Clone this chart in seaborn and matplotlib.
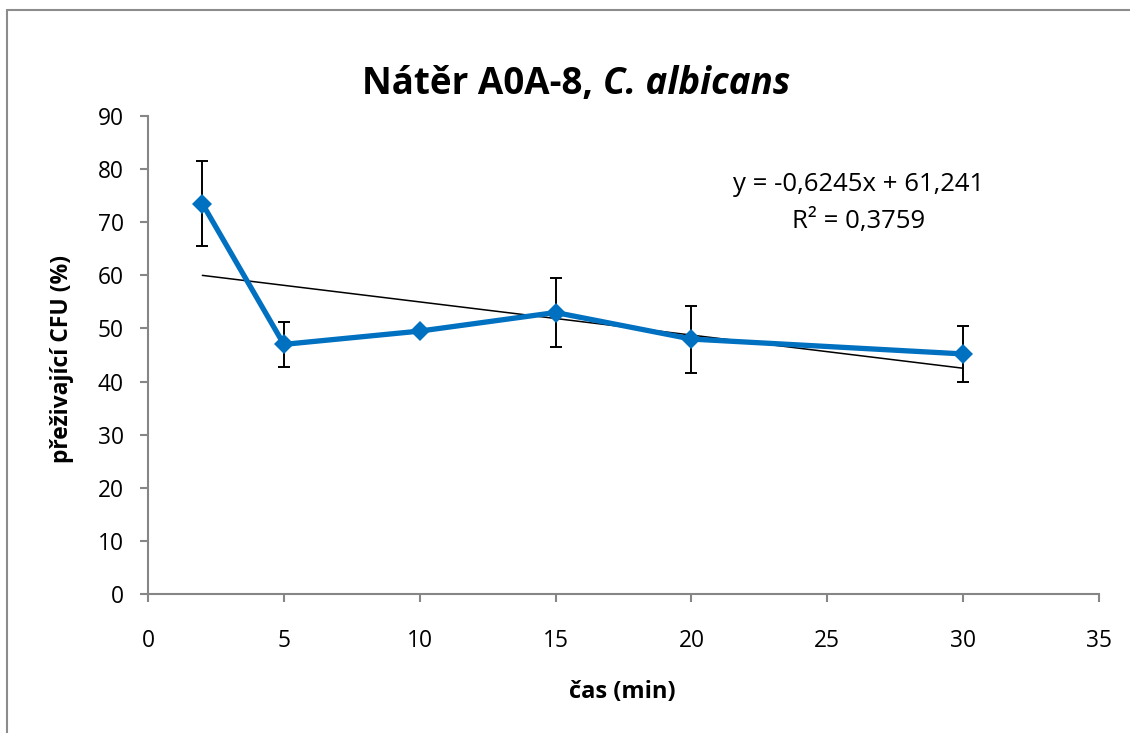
import matplotlib
matplotlib.use("Agg")
import matplotlib.pyplot as plt
from matplotlib.lines import Line2D
import numpy as np
import pandas as pd
import seaborn as sns

# Survival of C. albicans on coating A0A-8 over time
time_min = [2, 5, 10, 15, 20, 30]
survival_pct = [73.5, 47.0, 49.5, 53.0, 48.0, 45.2]
error_pct = [8.0, 4.3, 0.0, 6.5, 6.3, 5.3]

# Linear trend reported on the chart
slope = -0.6245
intercept = 61.241
equation_lines = ["y = -0,6245x + 61,241", "R² = 0,3759"]

x_ticks = [0, 5, 10, 15, 20, 25, 30, 35]
y_ticks = [0, 10, 20, 30, 40, 50, 60, 70, 80, 90]

sns.set_theme(style="white")
plt.rcParams["font.family"] = ["Open Sans", "DejaVu Sans"]

W, H = 1130, 733
fig = plt.figure(figsize=(W / 100, H / 100), dpi=100)
ax = fig.add_axes([148 / W, 1 - 594 / H, 951 / W, 478 / H])

df = pd.DataFrame({"t": time_min, "s": survival_pct, "e": error_pct})

# trend line
trend_x = np.array([min(time_min), max(time_min)])
trend = pd.DataFrame({"t": trend_x, "s": slope * trend_x + intercept})
sns.lineplot(data=trend, x="t", y="s", ax=ax, color="black", linewidth=1.1, zorder=2)

# error bars
ax.errorbar(df["t"], df["s"], yerr=df["e"], fmt="none", ecolor="black",
            elinewidth=1.4, capsize=4.3, capthick=1.4, zorder=3)

# measured series
sns.lineplot(data=df, x="t", y="s", ax=ax, color="#0070C0", linewidth=3.8,
             marker="D", markersize=10, markeredgewidth=0, zorder=4)

ax.set_xlim(0, 35)
ax.set_ylim(0, 90)
ax.set_xticks(x_ticks)
ax.set_yticks(y_ticks)
ax.set_xticklabels([str(v) for v in x_ticks])
ax.set_yticklabels([str(v) for v in y_ticks])
ax.set_xlabel("")
ax.set_ylabel("")

for side in ["top", "right"]:
    ax.spines[side].set_visible(False)
for side in ["left", "bottom"]:
    ax.spines[side].set_color("#868686")
    ax.spines[side].set_linewidth(1.5)

ax.tick_params(axis="both", which="major", direction="out", color="#868686",
               width=1.5, labelsize=16.4, labelcolor="black",
               bottom=True, left=True)
ax.tick_params(axis="y", length=5.5, pad=12)
ax.tick_params(axis="x", length=6, pad=19)
ax.grid(False)

# trend equation
for text, yc in zip(equation_lines, [184, 222]):
    fig.text(859 / W, 1 - yc / H, text, ha="center", va="center",
             fontsize=18.5, color="black")

# axis titles
fig.text(62 / W, 1 - 359 / H, "přeživající CFU (%)", rotation=90, ha="center",
         va="center", fontsize=16.5, fontweight="bold", color="black")
fig.text(622 / W, 1 - 692 / H, "čas (min)", ha="center", va="center",
         fontsize=17, fontweight="bold", color="black")

# title with italic species name
fig.canvas.draw()
renderer = fig.canvas.get_renderer()
t1 = fig.text(0, 1 - 84 / H, "Nátěr A0A-8, ", ha="left", va="center",
              fontsize=26.5, fontweight="bold", color="black")
t2 = fig.text(0, 1 - 84 / H, "C. albicans", ha="left", va="center",
              fontsize=26.5, fontweight="bold", fontstyle="italic", color="black")
w1 = t1.get_window_extent(renderer).width
w2 = t2.get_window_extent(renderer).width
start = 576 - (w1 + w2) / 2
t1.set_x(start / W)
t2.set_x((start + w1) / W)

# outer chart frame
frame_color = "#8c8c8c"
fig.add_artist(Line2D([7 / W, 1], [1 - 10 / H, 1 - 10 / H], transform=fig.transFigure,
                      color=frame_color, linewidth=1.5))
fig.add_artist(Line2D([7 / W, 7 / W], [0, 1 - 10 / H], transform=fig.transFigure,
                      color=frame_color, linewidth=1.5))

fig.savefig("out.png", dpi=100, facecolor="white")
